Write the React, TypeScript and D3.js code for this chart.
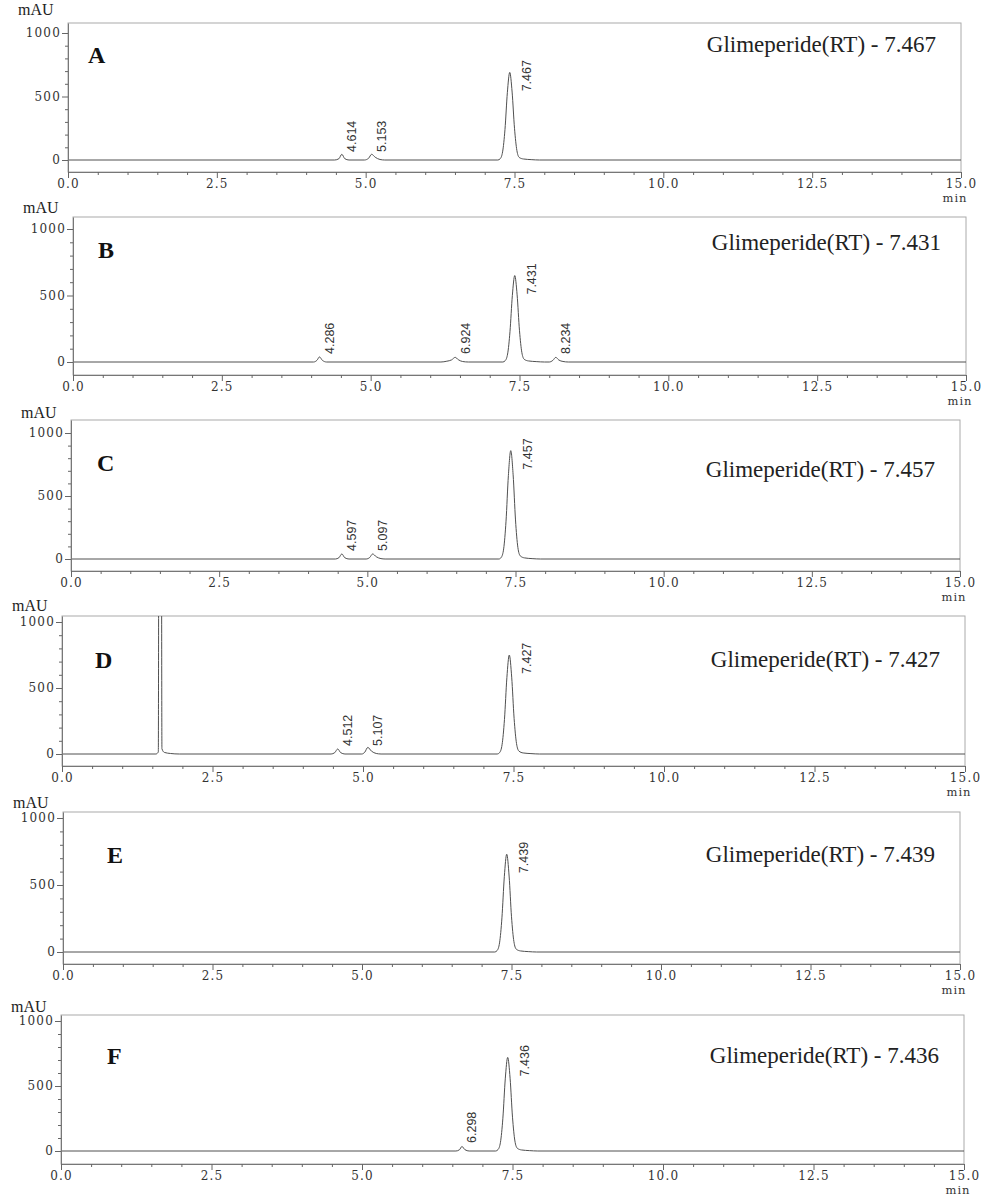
import React, { useEffect, useRef } from "react";
import * as d3 from "d3";

// panel letters and the retention time quoted in each panel
const panelIds = ["A", "B", "C", "D", "E", "F"];
const rtTitles = ["7.467", "7.431", "7.457", "7.427", "7.439", "7.436"];

// chromatogram traces, [time (min), signal (mAU)]
const traceA = [[0, 0], [4.48, 0], [4.55, 10], [4.6, 45], [4.65, 10], [4.72, 0], [4.98, 0], [5.05, 14], [5.1, 45], [5.16, 22], [5.24, 4], [5.32, 0], [7.22, 0], [7.26, 10], [7.3, 64], [7.34, 240], [7.38, 530], [7.42, 690], [7.46, 535], [7.5, 250], [7.54, 75], [7.58, 20], [7.65, 8], [7.78, 3], [7.92, 0], [15, 0]];
const traceB = [[0, 0], [4.04, 0], [4.1, 14], [4.14, 38], [4.19, 12], [4.26, 0], [6.18, 0], [6.28, 6], [6.36, 16], [6.42, 35], [6.47, 18], [6.54, 4], [6.64, 0], [7.22, 0], [7.26, 10], [7.3, 60], [7.34, 228], [7.38, 500], [7.42, 650], [7.46, 505], [7.5, 235], [7.54, 70], [7.58, 20], [7.65, 8], [7.78, 3], [7.92, 0], [8.0, 0], [8.06, 12], [8.11, 35], [8.16, 15], [8.23, 4], [8.32, 0], [15, 0]];
const traceC = [[0, 0], [4.46, 0], [4.52, 10], [4.57, 40], [4.62, 10], [4.69, 0], [4.98, 0], [5.04, 12], [5.09, 40], [5.15, 18], [5.23, 3], [5.3, 0], [7.22, 0], [7.26, 13], [7.3, 80], [7.34, 300], [7.38, 662], [7.42, 860], [7.46, 668], [7.5, 310], [7.54, 92], [7.58, 25], [7.65, 9], [7.78, 3], [7.92, 0], [15, 0]];
const traceD = [[0, 0], [1.56, 0], [1.6, 15], [1.612, 3000], [1.648, 3000], [1.66, 40], [1.7, 12], [1.8, 4], [1.95, 0], [4.47, 0], [4.53, 10], [4.58, 38], [4.63, 10], [4.7, 0], [4.98, 0], [5.03, 14], [5.08, 50], [5.14, 22], [5.22, 4], [5.3, 0], [7.23, 0], [7.27, 11], [7.31, 70], [7.35, 262], [7.39, 578], [7.43, 750], [7.47, 582], [7.51, 270], [7.55, 80], [7.59, 22], [7.66, 8], [7.79, 3], [7.93, 0], [15, 0]];
const traceE = [[0, 0], [7.22, 0], [7.26, 11], [7.3, 68], [7.34, 255], [7.38, 562], [7.42, 730], [7.46, 567], [7.5, 263], [7.54, 78], [7.58, 21], [7.65, 8], [7.78, 3], [7.92, 0], [15, 0]];
const traceF = [[0, 0], [6.56, 0], [6.62, 10], [6.66, 35], [6.71, 10], [6.78, 0], [7.22, 0], [7.26, 11], [7.3, 67], [7.34, 252], [7.38, 555], [7.42, 720], [7.46, 560], [7.5, 260], [7.54, 77], [7.58, 21], [7.65, 8], [7.78, 3], [7.92, 0], [15, 0]];

// peak annotations: [time drawn at, apex height, label]
const peaksA = [[4.6, 45, "4.614"], [5.1, 45, "5.153"], [7.42, 690, "7.467"]];
const peaksB = [[4.14, 38, "4.286"], [6.42, 35, "6.924"], [7.42, 650, "7.431"], [8.11, 35, "8.234"]];
const peaksC = [[4.57, 40, "4.597"], [5.09, 40, "5.097"], [7.42, 860, "7.457"]];
const peaksD = [[4.58, 38, "4.512"], [5.08, 50, "5.107"], [7.43, 750, "7.427"]];
const peaksE = [[7.42, 730, "7.439"]];
const peaksF = [[6.66, 35, "6.298"], [7.42, 720, "7.436"]];

const traces = [traceA, traceB, traceC, traceD, traceE, traceF];
const peaks = [peaksA, peaksB, peaksC, peaksD, peaksE, peaksF];

const xTicks = [0, 2.5, 5, 7.5, 10, 12.5, 15];
const xMinorTicks = [0.5, 1, 1.5, 2, 3, 3.5, 4, 4.5, 5.5, 6, 6.5, 7, 8, 8.5, 9, 9.5, 10.5, 11, 11.5, 12, 13, 13.5, 14, 14.5];
const yTicks = [0, 500, 1000];
const yMinorTicks = [100, 200, 300, 400, 600, 700, 800, 900];

// where each panel sits on the page (pixels)
const layout = [
  { left: 68, right: 961, top: 23, y1000: 33, y0: 160, bottom: 172, mauY: 15, titleY: 52, letterX: 88, letterY: 63 },
  { left: 73, right: 966, top: 217, y1000: 229, y0: 362, bottom: 375, mauY: 213, titleY: 250, letterX: 98, letterY: 258 },
  { left: 71, right: 960, top: 420, y1000: 433, y0: 559, bottom: 571, mauY: 418, titleY: 477, letterX: 97, letterY: 471 },
  { left: 62, right: 965, top: 616, y1000: 622, y0: 754, bottom: 766, mauY: 611, titleY: 667, letterX: 95, letterY: 668 },
  { left: 63, right: 960, top: 812, y1000: 818, y0: 952, bottom: 964, mauY: 808, titleY: 862, letterX: 107, letterY: 863 },
  { left: 61, right: 964, top: 1015, y1000: 1021, y0: 1151, bottom: 1164, mauY: 1012, titleY: 1063, letterX: 107, letterY: 1064 },
];

const serif = "'Liberation Serif', 'Times New Roman', serif";
const tickFont = "'DejaVu Serif', serif";

function drawPanel(svg, i) {
  const L = layout[i];
  const id = panelIds[i];

  const x = d3.scaleLinear().domain([0, 15]).range([L.left, L.right]);
  const yRef = d3.scaleLinear().domain([0, 1000]).range([L.y0, L.y1000]);
  const y = d3
    .scaleLinear()
    .domain([yRef.invert(L.bottom), yRef.invert(L.top)])
    .range([L.bottom, L.top]);

  const g = svg.append("g").attr("class", "panel-" + id);

  const clipId = "clip-" + id;
  g.append("clipPath")
    .attr("id", clipId)
    .append("rect")
    .attr("x", L.left)
    .attr("y", L.top)
    .attr("width", L.right - L.left + 6)
    .attr("height", L.bottom - L.top);

  // frame
  g.append("rect")
    .attr("x", L.left)
    .attr("y", L.top)
    .attr("width", L.right - L.left)
    .attr("height", L.bottom - L.top)
    .attr("fill", "none")
    .attr("stroke", "#aaa");

  const line = d3
    .line()
    .x((d) => x(d[0]))
    .y((d) => y(d[1]))
    .curve(d3.curveMonotoneX);

  g.append("path")
    .datum(traces[i])
    .attr("clip-path", `url(#${clipId})`)
    .attr("d", line)
    .attr("fill", "none")
    .attr("stroke", "#505050")
    .attr("stroke-width", 1);

  // y axis
  const yAxis = g
    .append("g")
    .attr("transform", `translate(${L.left},0)`)
    .call(d3.axisLeft(y).tickValues(yTicks).tickSize(6).tickSizeOuter(0).tickPadding(1).tickFormat(d3.format("d")));
  g.append("g")
    .attr("transform", `translate(${L.left},0)`)
    .call(d3.axisLeft(y).tickValues(yMinorTicks).tickSize(3).tickSizeOuter(0).tickFormat(() => ""))
    .call((s) => s.select(".domain").remove());

  // x axis
  const xAxis = g
    .append("g")
    .attr("transform", `translate(0,${L.bottom})`)
    .call(d3.axisBottom(x).tickValues(xTicks).tickSize(6).tickSizeOuter(0).tickPadding(1).tickFormat(d3.format(".1f")));
  g.append("g")
    .attr("transform", `translate(0,${L.bottom})`)
    .call(d3.axisBottom(x).tickValues(xMinorTicks).tickSize(3).tickSizeOuter(0).tickFormat(() => ""))
    .call((s) => s.select(".domain").remove());

  [yAxis, xAxis].forEach((a) => {
    a.selectAll("text")
      .attr("font-family", tickFont)
      .attr("font-size", 12)
      .attr("letter-spacing", 1.2)
      .attr("fill", "#333");
  });
  g.selectAll(".domain").attr("stroke", "#777");
  g.selectAll(".tick line").attr("stroke", "#666");

  g.append("text")
    .attr("x", L.left - 50)
    .attr("y", L.mauY)
    .attr("font-family", serif)
    .attr("font-size", 16)
    .attr("fill", "#222")
    .text("mAU");

  g.append("text")
    .attr("x", x(15) - 6)
    .attr("y", L.bottom + 29.5)
    .attr("text-anchor", "middle")
    .attr("font-family", tickFont)
    .attr("font-size", 11.5)
    .attr("letter-spacing", 1)
    .attr("fill", "#333")
    .text("min");

  // panel letter and title
  g.append("text")
    .attr("x", L.letterX)
    .attr("y", L.letterY)
    .attr("font-family", serif)
    .attr("font-weight", "bold")
    .attr("font-size", 24)
    .attr("fill", "#111")
    .text(id);

  g.append("text")
    .attr("x", L.right - 25)
    .attr("y", L.titleY)
    .attr("text-anchor", "end")
    .attr("font-family", serif)
    .attr("font-size", 23)
    .attr("fill", "#222")
    .text(`Glimeperide(RT) - ${rtTitles[i]}`);

  // peak labels, rotated, next to each apex
  g.selectAll(".peak-label")
    .data(peaks[i])
    .enter()
    .append("text")
    .attr("class", "peak-label")
    .attr("transform", (d) => {
      const big = d[1] > 300;
      const px = x(d[0]) + (big ? 17 : 10) + 4.5;
      const py = Math.min(y(d[1]) + 19, y(0) - 8);
      return `translate(${px},${py}) rotate(-90)`;
    })
    .attr("font-family", "'Liberation Sans', Arial, sans-serif")
    .attr("font-size", 12.5)
    .attr("fill", "#333")
    .text((d) => d[2]);
}

export default function App() {
  const ref = useRef(null);

  useEffect(() => {
    const svg = d3.select(ref.current);
    svg.selectAll("*").remove();
    panelIds.forEach((_, i) => drawPanel(svg, i));
  }, []);

  return (
    <svg
      ref={ref}
      width={983}
      height={1197}
      style={{ position: "absolute", left: 0, top: 0, background: "#fff" }}
    />
  );
}
